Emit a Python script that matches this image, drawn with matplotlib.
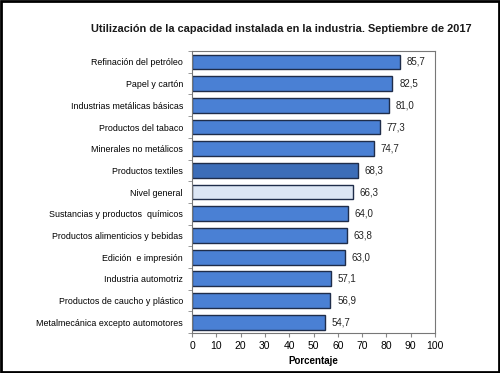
import matplotlib.pyplot as plt
import numpy as np

# data
categories = [
    "Refinación del petróleo",
    "Papel y cartón",
    "Industrias metálicas básicas",
    "Productos del tabaco",
    "Minerales no metálicos",
    "Productos textiles",
    "Nivel general",
    "Sustancias y productos  químicos",
    "Productos alimenticios y bebidas",
    "Edición  e impresión",
    "Industria automotriz",
    "Productos de caucho y plástico",
    "Metalmecánica excepto automotores",
]
values = [85.7, 82.5, 81.0, 77.3, 74.7, 68.3, 66.3, 64.0, 63.8, 63.0, 57.1, 56.9, 54.7]
bar_colors = ["#4a80d4"] * 5 + ["#3c6db8", "#dce6f4"] + ["#4a80d4"] * 6
xticks = list(range(0, 101, 10))

plt.rcParams['font.family'] = ['Liberation Sans', 'DejaVu Sans']

fig = plt.figure(figsize=(5, 3.73), dpi=100)
ax = fig.add_axes([0.384, 0.107, 0.486, 0.756])

y = np.arange(len(categories))
ax.barh(y, values, height=0.68, color=bar_colors, edgecolor="#1f2d4a", linewidth=1.0)

for yi, v in zip(y, values):
    ax.text(v + 2.8, yi, f"{v:.1f}".replace(".", ","), va="center", ha="left",
            fontsize=7, color="#222222")

ax.set_ylim(len(categories) - 0.5, -0.5)
ax.set_xlim(0, 100)
ax.set_yticks(y)
ax.set_yticklabels(categories, fontsize=6.4)
ax.set_yticks(np.arange(-0.5, len(categories), 1), minor=True)
ax.tick_params(axis="y", which="major", length=0, pad=6.5)
ax.tick_params(axis="y", which="minor", length=3, color="#888888")
ax.set_xticks(xticks)
ax.set_xticklabels([str(t) for t in xticks], fontsize=7.5)
ax.tick_params(axis="x", length=3, color="#888888", pad=3)
ax.set_xlabel("Porcentaje", fontsize=7, fontweight="bold", labelpad=3)

for s in ax.spines.values():
    s.set_color("#777777")
    s.set_linewidth(0.8)

fig.text(0.562, 0.922, "Utilización de la capacidad instalada en la industria. Septiembre de 2017",
         ha="center", va="center", fontsize=7.9, fontweight="bold", color="#1a1a1a")

# outer frame
fig.patches.append(plt.Rectangle((0.002, 0.003), 0.996, 0.994, transform=fig.transFigure,
                                 fill=False, edgecolor="black", linewidth=2))

fig.savefig("out.png", dpi=100)
